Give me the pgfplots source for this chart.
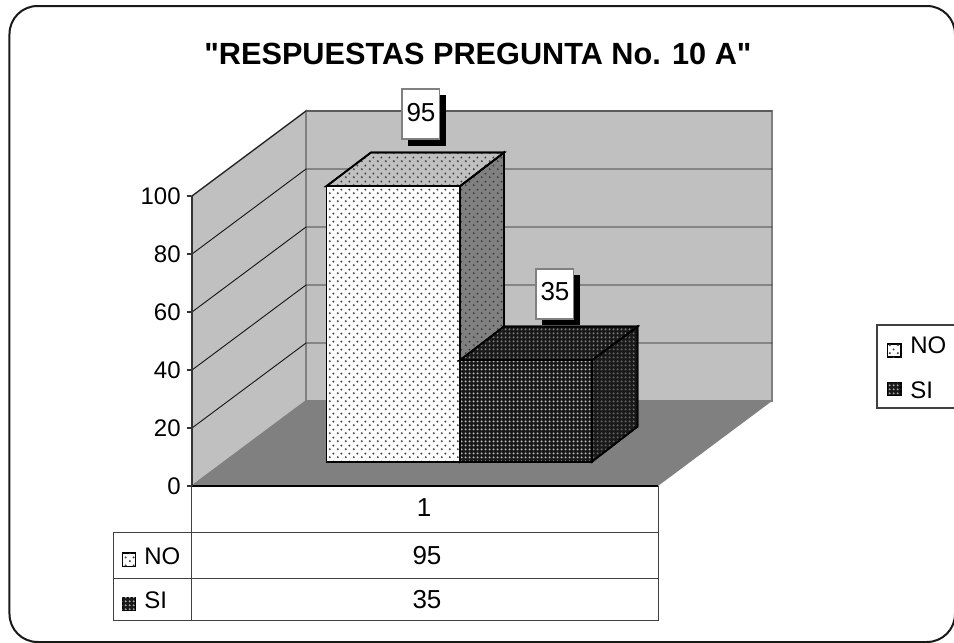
\documentclass[border=0pt]{standalone}
\usepackage{fontspec}
\setmainfont{Liberation Sans}
\newfontfamily\plainfont{Liberation Sans}
\usepackage{pgfplots}
\pgfplotsset{compat=1.18}
\usetikzlibrary{patterns}
\pgfdeclarepatternformonly{sparse}{\pgfqpoint{0pt}{0pt}}{\pgfqpoint{6pt}{6pt}}{\pgfqpoint{6pt}{6pt}}{%
  \pgfpathcircle{\pgfqpoint{1.5pt}{1.5pt}}{0.9pt}%
  \pgfpathcircle{\pgfqpoint{4.5pt}{4.5pt}}{0.9pt}%
  \pgfusepath{fill}}
\pgfdeclarepatternformonly{dense}{\pgfqpoint{0pt}{0pt}}{\pgfqpoint{3pt}{3pt}}{\pgfqpoint{3pt}{3pt}}{%
  \pgfpathcircle{\pgfqpoint{1.5pt}{1.5pt}}{0.95pt}%
  \pgfusepath{fill}}
\definecolor{wall}{HTML}{C0C0C0}
\definecolor{floorc}{HTML}{808080}
\newcommand{\PX}[2]{(axis cs:#1,{(486-#2)/2.9})}
\tikzset{
  nofront/.style={draw=black,line width=1.3pt,fill=white,postaction={pattern=sparse,pattern color=black!75}},
  notop/.style={draw=black,line width=1.3pt,fill=wall,postaction={pattern=sparse,pattern color=black!75}},
  noside/.style={draw=black,line width=1.3pt,fill=floorc,postaction={pattern=sparse,pattern color=black!75}},
  sifront/.style={draw=black,line width=1.3pt,fill=black!90,postaction={pattern=dense,pattern color=black!25}},
  sitop/.style={draw=black,line width=1.3pt,fill=black!90,postaction={pattern=dense,pattern color=black!50}},
  siside/.style={draw=black,line width=1.3pt,fill=black!90,postaction={pattern=dense,pattern color=black!60}},
  txt/.style={font=\fontsize{18pt}{20pt}\selectfont,inner sep=0pt},
  val/.style={font=\fontsize{19.5pt}{21pt}\selectfont,inner sep=0pt},
  rule/.style={draw=black!75,line width=0.75pt}
}
\begin{document}
\begin{tikzpicture}
\begin{axis}[
  scale only axis, width=435pt, height=217.5pt,
  xmin=192, xmax=772, ymin=0, ymax=100,
  clip=false,
  axis x line=none,
  axis y line*=left,
  y axis line style={-,black!80,line width=0.8pt},
  ytick={0,20,40,60,80,100},
  tick style={black!80,line width=0.8pt},
  major tick length=4pt,
  tick align=outside,
  yticklabel style={font=\fontsize{18pt}{20pt}\selectfont,xshift=-1pt},
  /pgf/number format/assume math mode=true,
]
% frame
\draw[black!90,line width=1.5pt,rounded corners=21pt] \PX{9.5}{6} -- \PX{955}{6} -- \PX{955}{642} -- \PX{9.5}{642} -- cycle;
% title
\node[font=\plainfont\bfseries\fontsize{23pt}{26pt}\selectfont,inner sep=0pt] at \PX{478}{54} {"RESPUESTAS PREGUNTA No. 10 A"};
% walls
\addplot[forget plot,fill=wall,draw=floorc,line width=1.2pt] coordinates {(192,0)(192,100)(306,129.3)(306,29.3)} -- cycle;
\addplot[forget plot,fill=wall,draw=floorc,line width=1.2pt] coordinates {(306,29.3)(306,129.3)(772,129.3)(772,29.3)} -- cycle;
\addplot[forget plot,fill=floorc,draw=none] coordinates {(192,0)(306,29.3)(772,29.3)(658,0)} -- cycle;
% grid
\foreach \v in {20,40,60,80,100}{
  \edef\tmp{\noexpand\draw[black!90,line width=0.7pt] (axis cs:192,\v) -- (axis cs:306,\v+29.3) -- (axis cs:772,\v+29.3);}\tmp
}
\draw[black,line width=1.2pt] (axis cs:192,0) -- (axis cs:658,0);
\draw[black!80,line width=0.8pt] (axis cs:192,0) -- (axis cs:192,100);
% NO bar (95), drawn from base 8.4 in the perspective offset
\addplot[forget plot,noside] coordinates {(460,8.4)(504,20.2)(504,115)(460,103.4)} -- cycle;
\addplot[forget plot,notop] coordinates {(326.5,103.4)(460,103.4)(504,115)(371,115)} -- cycle;
\addplot[forget plot,nofront] coordinates {(326.5,8.4)(460,8.4)(460,103.4)(326.5,103.4)} -- cycle;
% SI bar (35)
\addplot[forget plot,siside] coordinates {(592,8.4)(637.5,20.5)(637.5,55)(592,43.4)} -- cycle;
\addplot[forget plot,sitop] coordinates {(460,43.4)(592,43.4)(637.5,55)(504,55)} -- cycle;
\addplot[forget plot,sifront] coordinates {(460,8.4)(592,8.4)(592,43.4)(460,43.4)} -- cycle;
% data labels
\fill[black] \PX{408}{95} rectangle \PX{446}{146};
\draw[floorc,fill=white,line width=0.8pt] \PX{402}{89} rectangle \PX{439.5}{139};
\node[val] at \PX{421}{113} {95};
\fill[black] \PX{542}{275} rectangle \PX{580}{325};
\draw[floorc,fill=white,line width=0.8pt] \PX{536}{269} rectangle \PX{573.5}{319};
\node[val] at \PX{555}{292} {35};
% data table
\draw[rule] \PX{114}{532} -- \PX{658}{532};
\draw[rule] \PX{114}{578.5} -- \PX{658}{578.5};
\draw[rule] \PX{114}{620.5} -- \PX{658}{620.5};
\draw[rule] \PX{114}{532} -- \PX{114}{620.5};
\draw[rule] \PX{192}{486} -- \PX{192}{620.5};
\draw[rule] \PX{658}{486} -- \PX{658}{620.5};
\node[val] at \PX{424}{508} {1};
\node[val] at \PX{427}{556} {95};
\node[val] at \PX{427}{600} {35};
\draw[black,line width=1.2pt,fill=white,postaction={pattern=sparse,pattern color=black!75}] \PX{122.5}{553} rectangle \PX{135.5}{566.5};
\draw[black,line width=1.2pt,fill=black!90,postaction={pattern=dense,pattern color=black!35}] \PX{122.5}{597.5} rectangle \PX{135.5}{610.5};
\node[txt,anchor=west] at \PX{144}{556} {NO};
\node[txt,anchor=west] at \PX{144}{600} {SI};
% legend
\draw[black!75,line width=0.9pt] \PX{960}{325} -- \PX{877}{325} -- \PX{877}{408} -- \PX{960}{408};
\draw[black,line width=1.2pt,fill=white,postaction={pattern=sparse,pattern color=black!75}] \PX{887.5}{344} rectangle \PX{901}{357};
\draw[black,line width=1.2pt,fill=black!90,postaction={pattern=dense,pattern color=black!35}] \PX{887.5}{382.5} rectangle \PX{901}{395.5};
\node[txt,anchor=west] at \PX{910}{345} {NO};
\node[txt,anchor=west] at \PX{910}{390} {SI};
\end{axis}
\pgfresetboundingbox
\useasboundingbox (-144pt,-117.75pt) rectangle (571.5pt,364.5pt);
\end{tikzpicture}
\end{document}
